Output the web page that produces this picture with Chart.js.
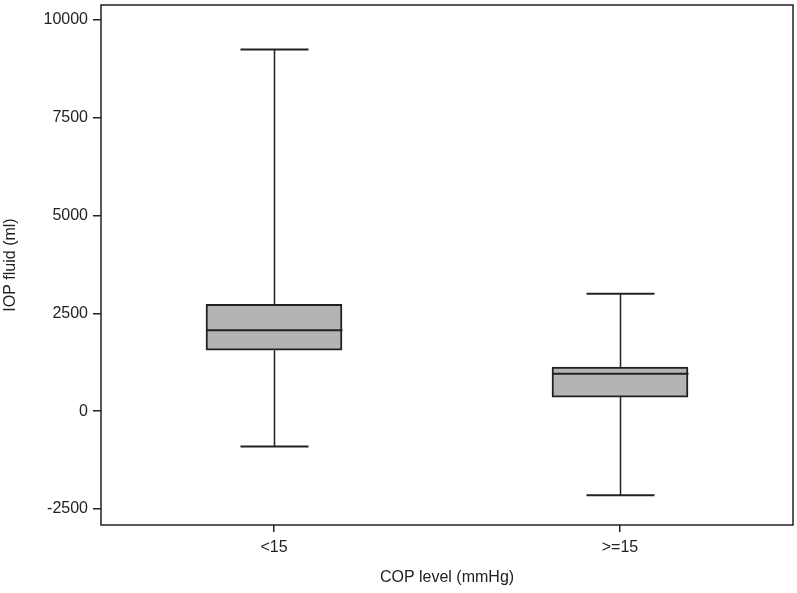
<!DOCTYPE html>
<html>
<head>
<meta charset="utf-8">
<script src="https://cdn.jsdelivr.net/npm/chart.js@4"></script>
<style>
  html, body { margin: 0; padding: 0; background: #fff; }
  #wrap { width: 797px; height: 593px; }
</style>
</head>
<body>
<div id="wrap"><canvas id="boxChart"></canvas></div>
<script>
// values
const groups = ['<15', '>=15'];
const whiskerLow = [-900, -2150];
const q1 = [1560, 360];
const median = [2070, 955];
const q3 = [2735, 1130];
const whiskerHigh = [9250, 3000];
const yTicks = [-2500, 0, 2500, 5000, 7500, 10000];

const lineColor = '#222';
const textColor = '#222';
const fontFamily = 'Liberation Sans, Arial, sans-serif';

// draws medians, whiskers, caps and the frame using the chart's scales
const boxExtras = {
    id: 'boxExtras',
    afterDatasetsDraw(chart) {
        const ctx = chart.ctx;
        const x = chart.scales.x;
        const y = chart.scales.y;
        const meta = chart.getDatasetMeta(0);
        ctx.save();
        ctx.strokeStyle = lineColor;
        groups.forEach((g, i) => {
            const cx = Math.round(x.getPixelForValue(i)) + 0.5;
            const half = meta.data[i].width / 2;
            const capHalf = half / 2;
            // whiskers
            ctx.lineWidth = 1.5;
            ctx.beginPath();
            ctx.moveTo(cx, y.getPixelForValue(q3[i]));
            ctx.lineTo(cx, y.getPixelForValue(whiskerHigh[i]));
            ctx.moveTo(cx, y.getPixelForValue(q1[i]));
            ctx.lineTo(cx, y.getPixelForValue(whiskerLow[i]));
            ctx.stroke();
            // caps
            ctx.lineWidth = 2;
            ctx.beginPath();
            ctx.moveTo(cx - capHalf, y.getPixelForValue(whiskerHigh[i]));
            ctx.lineTo(cx + capHalf, y.getPixelForValue(whiskerHigh[i]));
            ctx.moveTo(cx - capHalf, y.getPixelForValue(whiskerLow[i]));
            ctx.lineTo(cx + capHalf, y.getPixelForValue(whiskerLow[i]));
            ctx.stroke();
            // median
            ctx.beginPath();
            ctx.moveTo(cx - half, y.getPixelForValue(median[i]));
            ctx.lineTo(cx + half, y.getPixelForValue(median[i]));
            ctx.stroke();
        });
        // frame round the plot area
        const a = chart.chartArea;
        ctx.lineWidth = 1.5;
        ctx.strokeRect(a.left, a.top, a.right - a.left, a.bottom - a.top);
        ctx.restore();
    }
};

new Chart(document.getElementById('boxChart'), {
    type: 'bar',
    data: {
        labels: groups,
        datasets: [{
            data: groups.map((g, i) => [q1[i], q3[i]]),
            backgroundColor: '#b4b4b4',
            borderColor: lineColor,
            borderWidth: 2,
            borderSkipped: false,
            barThickness: 136
        }]
    },
    options: {
        responsive: true,
        maintainAspectRatio: false,
        animation: false,
        layout: { padding: { top: 5, right: 4, left: 0, bottom: 0 } },
        plugins: {
            legend: { display: false },
            tooltip: { enabled: false }
        },
        scales: {
            x: {
                grid: { display: true, offset: false, drawOnChartArea: false, drawTicks: true, tickLength: 7, color: lineColor, lineWidth: 1.5 },
                border: { display: false },
                ticks: { color: textColor, font: { family: fontFamily, size: 16 }, padding: 6 },
                title: { display: true, text: 'COP level (mmHg)', color: textColor, font: { family: fontFamily, size: 16 }, padding: { top: 4, bottom: 6 } },
                afterFit(scale) { scale.height = 68; scale.paddingLeft = 0; scale.paddingRight = 0; }
            },
            y: {
                min: -2910,
                max: 10385,
                grid: { display: true, drawOnChartArea: false, drawTicks: true, tickLength: 8, color: lineColor, lineWidth: 1.5 },
                border: { display: false },
                ticks: {
                    color: textColor,
                    font: { family: fontFamily, size: 16 },
                    padding: 5,
                    callback: v => String(v)
                },
                afterBuildTicks(scale) { scale.ticks = yTicks.map(v => ({ value: v })); },
                title: { display: true, text: 'IOP fluid (ml)', color: textColor, font: { family: fontFamily, size: 16 }, padding: { top: 1, bottom: 0 } },
                afterFit(scale) { scale.width = 101; scale.paddingTop = 0; scale.paddingBottom = 0; }
            }
        }
    },
    plugins: [boxExtras]
});
</script>
</body>
</html>
